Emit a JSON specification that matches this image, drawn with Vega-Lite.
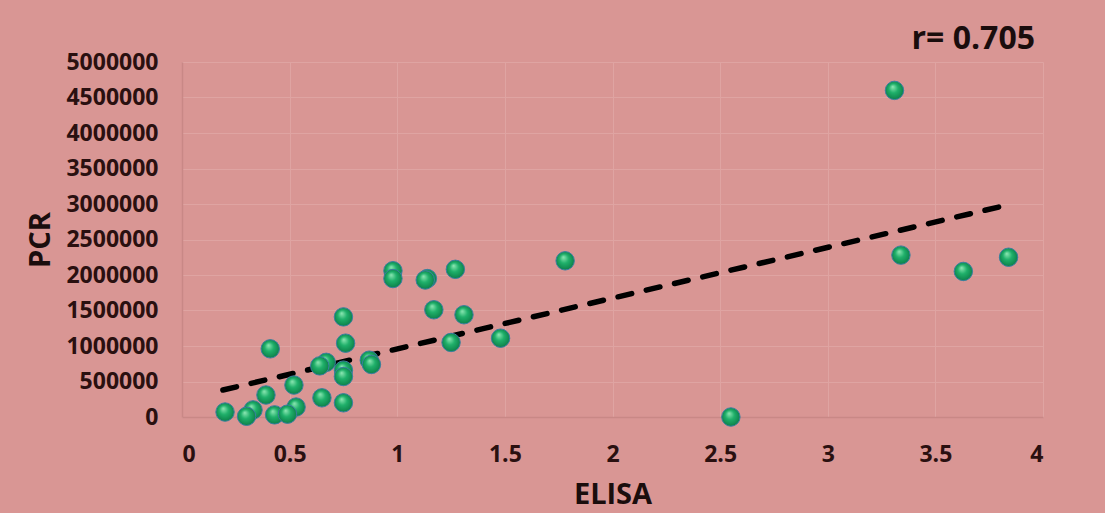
{
  "$schema": "https://vega.github.io/schema/vega-lite/v6.json",
  "autosize": {"type": "none"},
  "padding": {"left": 182, "top": 62, "right": 62, "bottom": 96},
  "width": 861,
  "height": 355,
  "background": "#D99694",
  "title": {
    "text": "r= 0.705",
    "anchor": "end",
    "orient": "top",
    "offset": 10,
    "dx": -8,
    "dy": 15,
    "font": "Open Sans",
    "fontSize": 32,
    "fontWeight": "bold",
    "color": "#1a0d0d"
  },
  "config": {
    "view": {"stroke": null},
    "axis": {
      "labelFont": "Open Sans",
      "labelFontWeight": "bold",
      "labelFontSize": 23,
      "labelColor": "#2a1010",
      "labelOverlap": false,
      "titleFont": "Open Sans",
      "titleFontWeight": "bold",
      "titleFontSize": 29,
      "titleColor": "#1a0d0d",
      "gridColor": "#DFA4A2",
      "gridWidth": 1,
      "domainColor": "#C98886",
      "domainWidth": 1.5,
      "ticks": false
    }
  },
  "datasets": {
    "points": [
      {"ELISA": 3.31, "PCR": 4600000},
      {"ELISA": 3.84, "PCR": 2250000},
      {"ELISA": 3.63, "PCR": 2050000},
      {"ELISA": 3.34, "PCR": 2280000},
      {"ELISA": 2.55, "PCR": 0},
      {"ELISA": 1.78, "PCR": 2200000},
      {"ELISA": 1.48, "PCR": 1110000},
      {"ELISA": 0.98, "PCR": 2060000},
      {"ELISA": 0.98, "PCR": 1950000},
      {"ELISA": 1.14, "PCR": 1950000},
      {"ELISA": 1.13, "PCR": 1930000},
      {"ELISA": 1.27, "PCR": 2080000},
      {"ELISA": 1.17, "PCR": 1510000},
      {"ELISA": 1.31, "PCR": 1440000},
      {"ELISA": 1.25, "PCR": 1050000},
      {"ELISA": 0.75, "PCR": 1410000},
      {"ELISA": 0.76, "PCR": 1040000},
      {"ELISA": 0.41, "PCR": 960000},
      {"ELISA": 0.87, "PCR": 800000},
      {"ELISA": 0.88, "PCR": 740000},
      {"ELISA": 0.67, "PCR": 770000},
      {"ELISA": 0.64, "PCR": 720000},
      {"ELISA": 0.75, "PCR": 660000},
      {"ELISA": 0.75, "PCR": 570000},
      {"ELISA": 0.52, "PCR": 450000},
      {"ELISA": 0.39, "PCR": 310000},
      {"ELISA": 0.65, "PCR": 270000},
      {"ELISA": 0.75, "PCR": 200000},
      {"ELISA": 0.20, "PCR": 70000},
      {"ELISA": 0.33, "PCR": 100000},
      {"ELISA": 0.30, "PCR": 10000},
      {"ELISA": 0.43, "PCR": 30000},
      {"ELISA": 0.53, "PCR": 140000},
      {"ELISA": 0.49, "PCR": 40000}
    ],
    "trend": [
      {"ELISA": 0.19, "PCR": 380000},
      {"ELISA": 3.84, "PCR": 2990000}
    ]
  },
  "encoding": {
    "x": {
      "field": "ELISA",
      "type": "quantitative",
      "scale": {"domain": [0, 4], "nice": false},
      "axis": {"values": [0, 0.5, 1, 1.5, 2, 2.5, 3, 3.5, 4], "labelPadding": 26, "titlePadding": 14, "format": "~g", "grid": true, "labelOverlap": false},
      "title": "ELISA"
    },
    "y": {
      "field": "PCR",
      "type": "quantitative",
      "scale": {"domain": [0, 5000000], "nice": false},
      "axis": {"values": [0, 500000, 1000000, 1500000, 2000000, 2500000, 3000000, 3500000, 4000000, 4500000, 5000000], "format": "d", "labelPadding": 24, "titlePadding": 10, "grid": true, "labelOverlap": false},
      "title": "PCR"
    }
  },
  "layer": [
    {
      "data": {"name": "trend"},
      "mark": {"type": "line", "color": "#000000", "strokeWidth": 5.5, "strokeDash": [14, 15], "strokeCap": "round"}
    },
    {
      "data": {"name": "points"},
      "mark": {
        "type": "point",
        "shape": "circle",
        "filled": true,
        "size": 340,
        "opacity": 1,
        "stroke": "#3a7fa0",
        "strokeWidth": 1,
        "fill": {
          "gradient": "radial",
          "x1": 0.4, "y1": 0.3, "r1": 0,
          "x2": 0.5, "y2": 0.5, "r2": 0.55,
          "stops": [
            {"offset": 0, "color": "#8fe8b4"},
            {"offset": 0.45, "color": "#1fb06a"},
            {"offset": 1, "color": "#0b7a45"}
          ]
        }
      }
    }
  ]
}
